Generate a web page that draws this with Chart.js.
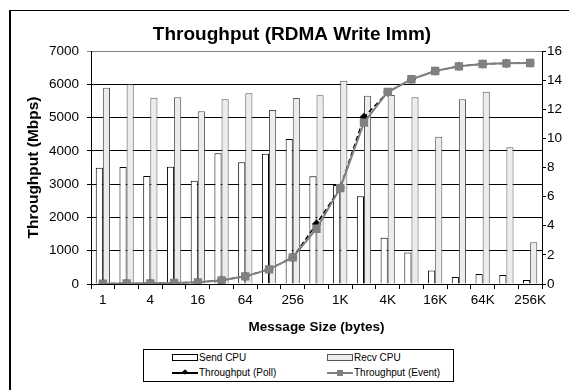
<!DOCTYPE html>
<html>
<head>
<meta charset="utf-8">
<script src="https://cdn.jsdelivr.net/npm/chart.js@4.4.1/dist/chart.umd.min.js"></script>
<style>
  html, body { margin: 0; padding: 0; background: #fff; }
  #wrap { position: relative; width: 569px; height: 390px; overflow: hidden; font-family: "Liberation Sans", Arial, sans-serif; }
  #frame { position: absolute; left: 9px; top: 10px; width: 640px; height: 420px; border-left: 2px solid #000; border-top: 1px solid #000; }
  #chart { position: absolute; left: 0; top: 0; }
  #legend { position: absolute; left: 143px; top: 349px; width: 309px; height: 31px; border: 1px solid #000; background: #fff;
            display: grid; grid-template-columns: 155px 154px; grid-template-rows: 15px 15px; font-size: 10px; color: #000; }
  .item { display: flex; align-items: center; padding-left: 28px; white-space: nowrap; }
  .sym { display: inline-block; position: relative; width: 26px; height: 7px; margin-right: 1px; }
</style>
</head>
<body>
<div id="wrap">
  <div id="frame"></div>
  <canvas id="chart" width="569" height="390"></canvas>
  <div id="legend"></div>
</div>
<script>
// --- Datos ---
const sizes = ['1', '2', '4', '8', '16', '32', '64', '128', '256', '512',
               '1K', '2K', '4K', '8K', '16K', '32K', '64K', '128K', '256K'];
// CPU (eje derecho)
const sendCpu = [7.99, 8.03, 7.42, 8.05, 7.09, 8.97, 8.36, 8.95, 9.96, 7.40,
                 6.80, 6.02, 3.18, 2.17, 0.92, 0.48, 0.69, 0.62, 0.27];
const recvCpu = [13.48, 13.71, 12.79, 12.82, 11.86, 12.68, 13.10, 11.95, 12.77, 12.96,
                 13.96, 12.93, 12.98, 12.82, 10.12, 12.68, 13.21, 9.39, 2.86];
// Throughput en Mbps (eje izquierdo)
const tputPoll = [10, 15, 20, 30, 50, 110, 230, 440, 800, 1800,
                  2890, 5010, 5760, 6150, 6400, 6540, 6610, 6630, 6640];
const tputEvent = [10, 15, 20, 30, 50, 110, 230, 440, 800, 1660,
                   2880, 4850, 5770, 6150, 6400, 6540, 6610, 6630, 6640];

Chart.defaults.font.family = '"Liberation Sans", Arial, sans-serif';
Chart.defaults.color = '#000';

const ctx = document.getElementById('chart').getContext('2d');
const chart = new Chart(ctx, {
    type: 'bar',
    data: {
        labels: sizes,
        datasets: [
            { label: 'Send CPU', data: sendCpu, yAxisID: 'yCpu', order: 3,
              backgroundColor: '#ffffff', borderColor: '#000000', borderWidth: 1,
              barPercentage: 1.0, categoryPercentage: 0.6 },
            { label: 'Recv CPU', data: recvCpu, yAxisID: 'yCpu', order: 4,
              backgroundColor: '#ececec', borderColor: '#555555', borderWidth: 1,
              barPercentage: 1.0, categoryPercentage: 0.6 },
            { label: 'Throughput (Poll)', data: tputPoll, type: 'line', yAxisID: 'y', order: 2,
              borderColor: '#000000', borderWidth: 1.5, borderDash: [5, 3], tension: 0,
              pointStyle: 'rectRot', pointRadius: 3.5, pointBackgroundColor: '#000', pointBorderColor: '#000' },
            { label: 'Throughput (Event)', data: tputEvent, type: 'line', yAxisID: 'y', order: 1,
              borderColor: '#808080', borderWidth: 2, tension: 0,
              pointStyle: 'rect', pointRadius: 4.5, pointBackgroundColor: '#808080', pointBorderColor: '#808080' }
        ]
    },
    options: {
        responsive: false,
        animation: false,
        devicePixelRatio: 1,
        // padding izquierdo para centrar el título como en el original
        layout: { padding: { left: 15, right: 0, top: 0, bottom: 50 } },
        plugins: {
            legend: { display: false },
            tooltip: { enabled: false },
            title: {
                display: true, text: 'Throughput (RDMA Write Imm)', color: '#000',
                font: { size: 19, weight: 'bold' }, padding: { top: 23.6, bottom: 4.6 }
            }
        },
        scales: {
            x: {
                offset: true,
                grid: { display: true, drawOnChartArea: false, drawTicks: true, tickLength: 5, color: '#000', offset: true },
                border: { display: true, color: '#000', width: 1 },
                ticks: { autoSkip: false, maxRotation: 0, padding: 3, font: { size: 13.5 },
                         callback: (v, i) => (i % 2 === 0 ? sizes[i] : '') },
                title: { display: true, text: 'Message Size (bytes)', font: { size: 13.5, weight: 'bold' },
                         padding: { top: 0, bottom: 4.9 } },
                afterFit: s => { s.height = 56; }
            },
            y: {
                position: 'left', min: 0, max: 7000,
                ticks: { stepSize: 1000, padding: 8, font: { size: 13.5 }, callback: v => String(v) },
                grid: { color: c => (c.tick && c.tick.value === 7000 ? '#808080' : '#000'),
                        lineWidth: 1, tickLength: 4, drawTicks: true },
                border: { display: true, color: '#000', width: 1 },
                title: { display: true, text: 'Throughput (Mbps)', font: { size: 15.5, weight: 'bold' },
                         padding: { top: 9, bottom: 0 } },
                afterFit: s => { s.width = 76; }
            },
            yCpu: {
                position: 'right', min: 0, max: 16,
                ticks: { stepSize: 2, padding: 1, font: { size: 13.5 } },
                grid: { drawOnChartArea: false, drawTicks: true, tickLength: 4, color: '#000' },
                border: { display: true, color: '#000', width: 1 },
                afterFit: s => { s.width = 27; }
            }
        }
    }
});

// --- Leyenda HTML (texto real) ---
function buildLegend(chartInstance) {
    const box = document.getElementById('legend');
    chartInstance.data.datasets.forEach(ds => {
        const item = document.createElement('div');
        item.className = 'item';
        const sym = document.createElement('span');
        sym.className = 'sym';
        if (ds.type === 'line') {
            const ln = document.createElement('span');
            ln.style.cssText = 'position:absolute;left:0;top:3px;width:26px;height:' + (ds.borderWidth >= 2 ? 2 : 1.5) + 'px;background:' + ds.borderColor;
            const mk = document.createElement('span');
            if (ds.pointStyle === 'rect') {
                mk.style.cssText = 'position:absolute;left:10px;top:0.5px;width:6px;height:6px;background:' + ds.pointBackgroundColor;
            } else {
                mk.style.cssText = 'position:absolute;left:11px;top:1px;width:4px;height:4px;transform:rotate(45deg);background:' + ds.pointBackgroundColor;
            }
            sym.appendChild(ln);
            sym.appendChild(mk);
        } else {
            const r = document.createElement('span');
            r.style.cssText = 'position:absolute;left:0;top:0;width:24px;height:5px;border:1px solid ' + ds.borderColor + ';background:' + ds.backgroundColor;
            sym.appendChild(r);
        }
        item.appendChild(sym);
        item.appendChild(document.createTextNode(ds.label));
        box.appendChild(item);
    });
}
buildLegend(chart);
</script>
</body>
</html>
